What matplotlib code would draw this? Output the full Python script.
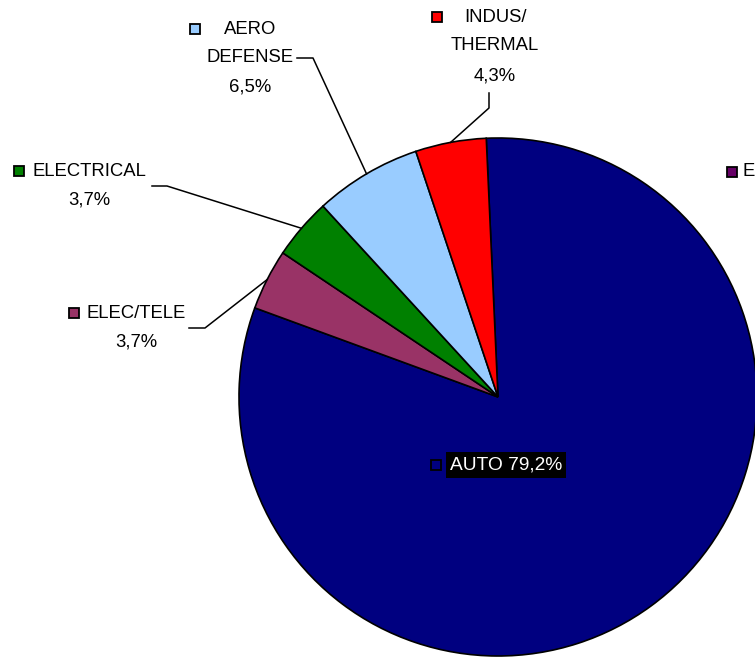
import matplotlib.pyplot as plt
import numpy as np

plt.rcParams['font.family'] = ['Liberation Sans', 'DejaVu Sans']

# secteurs du portefeuille (ordre horaire depuis le haut)
secteurs = ['AUTO', 'ELEC/TELE', 'ELECTRICAL', 'AERO\nDEFENSE', 'INDUS/\nTHERMAL']
parts = [79.2, 3.7, 3.7, 6.5, 4.3]
couleurs = ['#000080', '#993366', '#008000', '#99ccff', '#ff0000']

W, H = 755, 659
fig = plt.figure(figsize=(W / 100, H / 100), dpi=100)
ax = fig.add_axes([0, 0, 1, 1])

def py(y):
    # coordonnees pixel (origine en haut) -> axes
    return H - y

cx, cy, r = 498, py(397), 259
wedges, _ = ax.pie(parts, colors=couleurs, startangle=92.6, counterclock=False,
                   center=(cx, cy), radius=r,
                   wedgeprops=dict(edgecolor='black', linewidth=1.2))
ax.set_xlim(0, W)
ax.set_ylim(0, H)
ax.set_aspect('equal')
ax.axis('off')

fs = 13.3

def carre(x, y, c):
    ax.plot([x], [py(y)], marker='s', markersize=6.5, markerfacecolor=c,
            markeredgecolor='black', markeredgewidth=1.3, clip_on=False)

def pct(v):
    return ('%.1f' % v).replace('.', ',') + '%'

# position des lignes de texte (x centre, y de chaque ligne), carre, coude du trait
mise_en_page = {
    'ELEC/TELE': dict(x=136, ys=[313, 342], sq=(74, 313), coude=[(189, 328), (205, 328)]),
    'ELECTRICAL': dict(x=89, ys=[171, 200], sq=(19, 171), coude=[(152, 186), (167, 186)]),
    'AERO\nDEFENSE': dict(x=250, ys=[29, 58, 87], sq=(195, 29), coude=[(297, 58), (313, 58)]),
    'INDUS/\nTHERMAL': dict(x=495, ys=[17, 46, 76], sq=(437, 17), coude=[(489, 93), (489, 108)]),
}

for w, nom, v, c in zip(wedges, secteurs, parts, couleurs):
    if nom not in mise_en_page:
        continue
    m = mise_en_page[nom]
    lignes = nom.split('\n') + [pct(v)]
    for s, y in zip(lignes, m['ys']):
        ax.text(m['x'], py(y), s, ha='center', va='center', fontsize=fs)
    carre(m['sq'][0], m['sq'][1], c)
    a = np.deg2rad((w.theta1 + w.theta2) / 2)
    xs = [p[0] for p in m['coude']] + [cx + r * np.cos(a)]
    ys = [py(p[1]) for p in m['coude']] + [cy + r * np.sin(a)]
    ax.plot(xs, ys, color='black', linewidth=1.1)

# etiquette AUTO dans la part
carre(436, 465, couleurs[0])
ax.text(450, py(465), secteurs[0] + ' ' + pct(parts[0]), ha='left', va='center',
        fontsize=13.8, color='white',
        bbox=dict(facecolor='black', edgecolor='none', pad=3))

# legende coupee au bord droit
carre(732, 172, '#660066')
ax.text(742, py(172), 'E', ha='left', va='center', fontsize=fs)

fig.savefig('out.png', dpi=100)
